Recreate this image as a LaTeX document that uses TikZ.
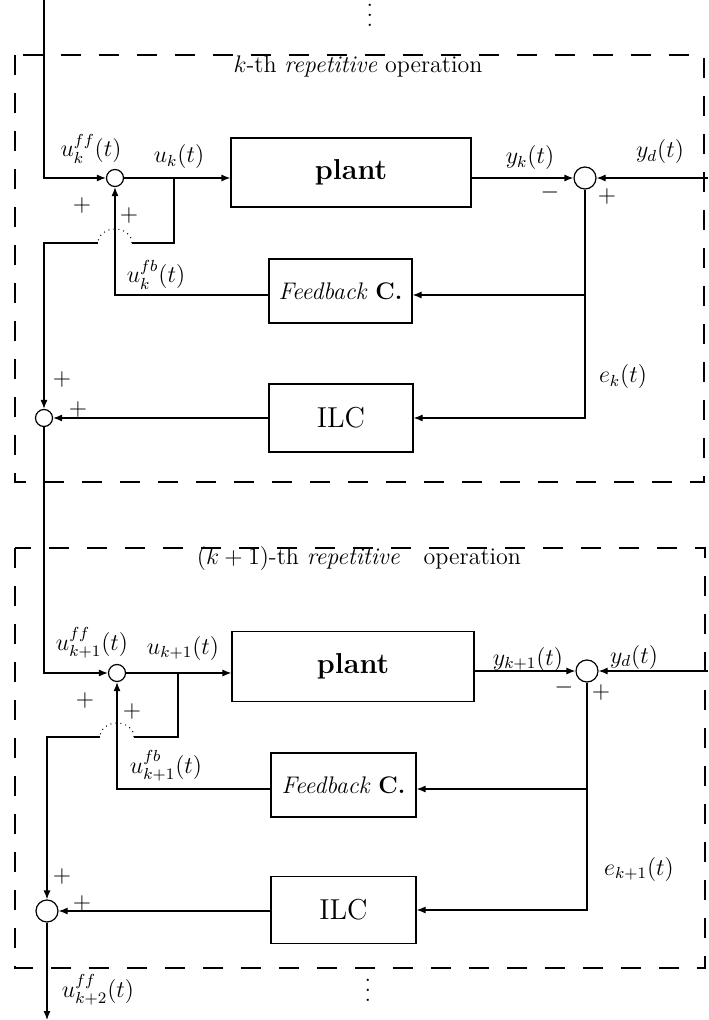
\documentclass[tikz,border=0pt]{standalone}
\usepackage{amsmath}
\usetikzlibrary{arrows.meta, positioning, calc}
\tikzset{
  block/.style={rectangle, draw=black, line width=0.6pt, align=center, inner sep=2pt},
  sumnode/.style={circle, draw=black, line width=0.6pt, inner sep=0pt},
  arrow/.style={-{Latex[length=4.5pt,width=3.5pt]}, line width=0.6pt},
  wire/.style={line width=0.6pt},
  jump/.style={dotted, line width=0.5pt},
  frame/.style={dash pattern=on 10pt off 9pt, line width=0.55pt},
  sign/.style={font=\large, inner sep=0pt},
  sig/.style={font=\large, inner sep=1pt},
}
\newcommand{\vdotsx}{\vbox{\baselineskip=5pt \lineskiplimit=0pt \hbox{.}\hbox{.}\hbox{.}}}

\begin{document}
\begin{tikzpicture}[x=0.5pt, y=-0.5pt]
  \useasboundingbox (0,0) rectangle (708,1020);

  % k-th operation
  \draw[frame] (15,55) rectangle (704,482);
  \node[font=\large] (title1) at (358,67) {$k$-th \textit{repetitive} operation};
  \node[inner sep=0pt, font=\large] (dots1) at (370,15) {\vdotsx};

  \node[block, minimum width=120pt, minimum height=34.5pt, font=\Large\bfseries] (plant1) at (351,172.5) {plant};
  \node[block, minimum width=71.5pt, minimum height=32pt, font=\large] (fbc1) at (340.5,291) {\textit{Feedback} \textbf{C.}};
  \node[block, minimum width=72pt, minimum height=34pt, font=\Large] (ilc1) at (341,418) {ILC};

  \node[sumnode, minimum size=8.5pt] (sumu1) at (115,178) {};
  \node[sumnode, minimum size=11pt] (sume1) at (585,178) {};
  \node[sumnode, minimum size=8.5pt] (sumff1) at (44,418) {};

  \coordinate (in1) at (44,0);
  \coordinate (yd1) at (708,178);
  \coordinate (br1) at (174,178);
  \coordinate (jr1) at (132,243);
  \coordinate (jl1) at (98,243);
  \coordinate (fbin1) at ([yshift=-2pt]fbc1.east);
  \coordinate (fbout1) at ([yshift=-2pt]fbc1.west);

  \draw[arrow] (in1) |- (sumu1.west);
  \draw[arrow] (sumu1.east) -- (sumu1.east -| plant1.west);
  \draw[wire] (br1) |- (jr1);
  \draw[jump] (jr1) arc[start angle=0, end angle=180, x radius=8.5pt, y radius=7pt];
  \draw[arrow] (jl1) -| (sumff1.north);
  \draw[arrow] (sumu1.east -| plant1.east) -- (sume1.west);
  \draw[arrow] (yd1) -- (sume1.east);
  \draw[arrow] (sume1.south) |- (ilc1.east);
  \draw[arrow] (sume1.south |- fbin1) -- (fbin1);
  \draw[arrow] (fbout1) -| (sumu1.south);
  \draw[arrow] (ilc1.west) -- (sumff1.east);

  \node[sig] (uff1) at (91,149) {$u_k^{ff}(t)$};
  \node[sig] (uk1) at (179,157) {$u_k(t)$};
  \node[sign] (pa1) at (82,206) {$+$};
  \node[sign] (pb1) at (129,216) {$+$};
  \node[sig] (ufb1) at (156,275) {$u_k^{fb}(t)$};
  \node[sig] (yk1) at (530,158) {$y_k(t)$};
  \node[sig] (ydl1) at (660,152) {$y_d(t)$};
  \node[sign] (mc1) at (550,193) {$-$};
  \node[sign] (pc1) at (607,197) {$+$};
  \node[sig] (ek1) at (623,377) {$e_k(t)$};
  \node[sign] (pd1) at (62,380) {$+$};
  \node[sign] (pe1) at (78,410) {$+$};

  % (k+1)-th operation
  \draw[frame] (15,548) rectangle (705,968);
  \node[font=\large] (title2) at (359,558) {$(k+1)$-th \textit{repetitive}\quad operation};

  \node[block, minimum width=121pt, minimum height=35pt, font=\Large\bfseries] (plant2) at (353,666.5) {plant};
  \node[block, minimum width=72.5pt, minimum height=32pt, font=\large] (fbc2) at (343.5,785) {\textit{Feedback} \textbf{C.}};
  \node[block, minimum width=72.5pt, minimum height=33.5pt, font=\Large] (ilc2) at (343.5,910) {ILC};

  \node[sumnode, minimum size=8.5pt] (sumu2) at (117,673) {};
  \node[sumnode, minimum size=11pt] (sume2) at (587,671) {};
  \node[sumnode, minimum size=11pt] (sumff2) at (47,911) {};

  \coordinate (yd2) at (708,671);
  \coordinate (br2) at (178,673);
  \coordinate (jr2) at (134,737);
  \coordinate (jl2) at (100,737);
  \coordinate (fbin2) at ([yshift=-2pt]fbc2.east);
  \coordinate (fbout2) at ([yshift=-2pt]fbc2.west);
  \coordinate (out2) at (47,1020);

  \draw[arrow] (sumff1.south) |- (sumu2.west);
  \draw[arrow] (sumu2.east) -- (sumu2.east -| plant2.west);
  \draw[wire] (br2) |- (jr2);
  \draw[jump] (jr2) arc[start angle=0, end angle=180, x radius=8.5pt, y radius=7pt];
  \draw[arrow] (jl2) -| (sumff2.north);
  \draw[arrow] (sume2.west -| plant2.east) -- (sume2.west);
  \draw[arrow] (yd2) -- (sume2.east);
  \draw[arrow] (sume2.south) |- (sume2.south |- ilc2.east) -- (ilc2.east);
  \draw[arrow] (sume2.south |- fbin2) -- (fbin2);
  \draw[arrow] (fbout2) -| (sumu2.south);
  \draw[arrow] (ilc2.west |- sumff2) -- (sumff2.east);
  \draw[arrow] (sumff2.south) -- (out2);

  \node[sig] (uff2) at (92,643) {$u_{k+1}^{ff}(t)$};
  \node[sig] (uk2) at (183,648) {$u_{k+1}(t)$};
  \node[sign] (pa2) at (85,700) {$+$};
  \node[sign] (pb2) at (132,711) {$+$};
  \node[sig] (ufb2) at (166,766) {$u_{k+1}^{fb}(t)$};
  \node[sig] (yk2) at (528,659) {$y_{k+1}(t)$};
  \node[sig] (ydl2) at (634,657) {$y_d(t)$};
  \node[sign] (mc2) at (564,687) {$-$};
  \node[sign] (pc2) at (601,692) {$+$};
  \node[sig] (ek2) at (639,869) {$e_{k+1}(t)$};
  \node[sign] (pd2) at (62,876) {$+$};
  \node[sign] (pe2) at (82,903) {$+$};

  \node[sig] (uff3) at (98,990) {$u_{k+2}^{ff}(t)$};
  \node[inner sep=0pt, font=\large] (dots2) at (368,990) {\vdotsx};
\end{tikzpicture}
\end{document}
